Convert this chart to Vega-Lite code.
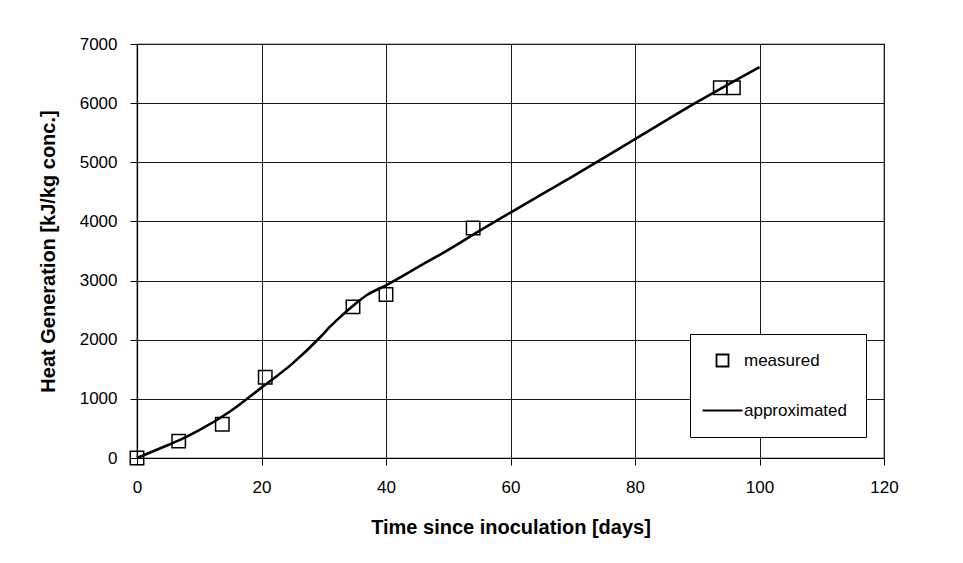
{
  "$schema": "https://vega.github.io/schema/vega-lite/v6.json",
  "width": 747,
  "height": 414,
  "autosize": {"type": "none"},
  "padding": {"left": 137, "top": 44, "right": 79, "bottom": 105},
  "background": "white",
  "datasets": {
    "measured": [
      {"days": 0, "heat": 0, "series": "measured"},
      {"days": 6.7, "heat": 285, "series": "measured"},
      {"days": 13.7, "heat": 570, "series": "measured"},
      {"days": 20.6, "heat": 1365, "series": "measured"},
      {"days": 34.7, "heat": 2555, "series": "measured"},
      {"days": 40.0, "heat": 2765, "series": "measured"},
      {"days": 54.0, "heat": 3890, "series": "measured"},
      {"days": 93.7, "heat": 6260, "series": "measured"},
      {"days": 95.8, "heat": 6260, "series": "measured"}
    ],
    "approx": [
      {"days": 0, "heat": 0},
      {"days": 5, "heat": 220},
      {"days": 7, "heat": 310},
      {"days": 10, "heat": 470},
      {"days": 15, "heat": 790},
      {"days": 20, "heat": 1190},
      {"days": 25, "heat": 1600},
      {"days": 29.5, "heat": 2050},
      {"days": 31, "heat": 2220},
      {"days": 32.5, "heat": 2370},
      {"days": 35, "heat": 2600},
      {"days": 37, "heat": 2760},
      {"days": 40, "heat": 2920},
      {"days": 45, "heat": 3220},
      {"days": 50, "heat": 3520},
      {"days": 55, "heat": 3840},
      {"days": 60, "heat": 4150},
      {"days": 70, "heat": 4760},
      {"days": 80, "heat": 5390},
      {"days": 90, "heat": 6020},
      {"days": 100, "heat": 6610}
    ]
  },
  "layer": [
    {
      "data": {"name": "approx"},
      "mark": {"type": "line", "color": "black", "strokeWidth": 2.6, "interpolate": "monotone"},
      "encoding": {
        "x": {"field": "days", "type": "quantitative"},
        "y": {"field": "heat", "type": "quantitative"}
      }
    },
    {
      "data": {"name": "measured"},
      "mark": {"type": "point", "filled": false, "color": "black", "strokeWidth": 1.5, "size": 180, "opacity": 1},
      "encoding": {
        "x": {"field": "days", "type": "quantitative"},
        "y": {"field": "heat", "type": "quantitative"},
        "shape": {
          "field": "series",
          "type": "nominal",
          "scale": {"domain": ["measured", "approximated"], "range": ["square", "M-3.33,0H3.33"]},
          "legend": {
            "title": null,
            "orient": "none",
            "legendX": 553,
            "legendY": 290,
            "padding": 18,
            "strokeColor": "black",
            "fillColor": "white",
            "cornerRadius": 0,
            "symbolSize": 144,
            "symbolOffset": 6,
            "symbolStrokeColor": "black",
            "symbolFillColor": "transparent",
            "symbolStrokeWidth": 1.8,
            "labelFont": "Liberation Sans",
            "labelFontSize": 17,
            "labelColor": "black",
            "labelOffset": 13,
            "rowPadding": 30
          }
        }
      }
    }
  ],
  "encoding": {
    "x": {
      "field": "days",
      "type": "quantitative",
      "scale": {"domain": [0, 120], "nice": false, "zero": true},
      "axis": {
        "title": "Time since inoculation [days]",
        "values": [0, 20, 40, 60, 80, 100, 120],
        "labelPadding": 14,
        "titlePadding": 22
      }
    },
    "y": {
      "field": "heat",
      "type": "quantitative",
      "scale": {"domain": [0, 7000], "nice": false},
      "axis": {
        "title": "Heat Generation [kJ/kg conc.]",
        "values": [0, 1000, 2000, 3000, 4000, 5000, 6000, 7000],
        "format": "d",
        "labelPadding": 13,
        "titlePadding": 21
      }
    }
  },
  "config": {
    "view": {"stroke": "black", "strokeWidth": 1.2},
    "axis": {
      "grid": true,
      "gridColor": "#1a1a1a",
      "gridWidth": 1,
      "gridOpacity": 1,
      "domainColor": "black",
      "domainWidth": 1.2,
      "tickColor": "black",
      "tickSize": 7,
      "tickWidth": 1,
      "labelFont": "Liberation Sans",
      "labelFontSize": 17,
      "labelColor": "black",
      "labelFlush": false,
      "labelOverlap": false,
      "titleFont": "Liberation Sans",
      "titleFontSize": 20,
      "titleFontWeight": "bold",
      "titleColor": "black"
    }
  }
}
